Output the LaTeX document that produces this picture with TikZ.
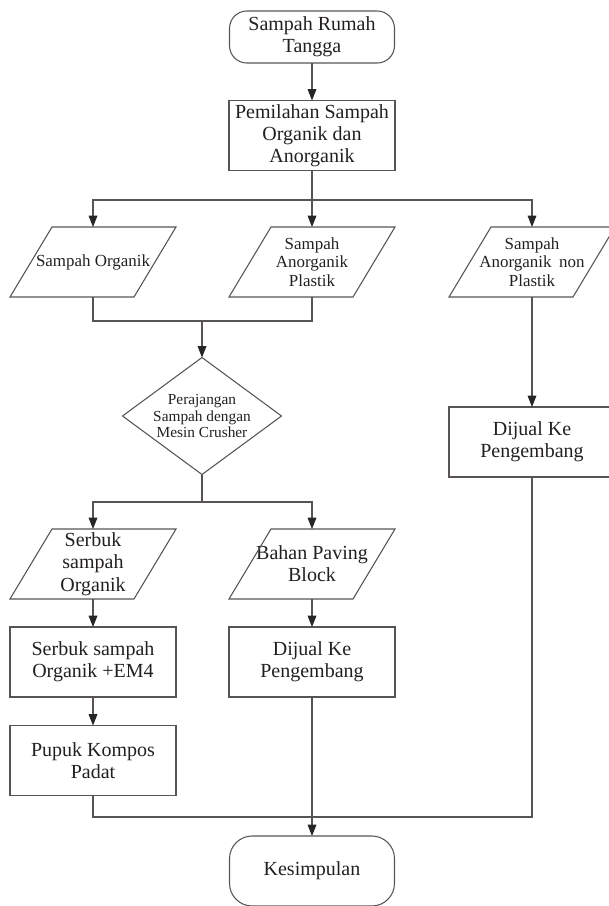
\documentclass[tikz,border=0pt]{standalone}
\usepackage{fontspec}
\setmainfont{Liberation Serif}
\usetikzlibrary{shapes.geometric,arrows.meta}
\definecolor{wiregray}{RGB}{88,84,84}
\definecolor{inkgray}{RGB}{35,31,32}
\begin{document}
\begin{tikzpicture}[x=0.75pt,y=-0.75pt,
  every node/.style={text=inkgray, align=center, inner sep=1pt, outer sep=0pt, font=\fontsize{15}{16.7}\selectfont},
  terminal/.style={draw=wiregray, line width=0.8pt, rounded corners=13pt, minimum width=123.75pt, minimum height=39pt},
  process/.style={draw=wiregray, line width=0.8pt, minimum width=124.5pt, minimum height=52.5pt},
  dataio/.style={minimum width=93pt, minimum height=52.5pt},
  smalltext/.style={font=\fontsize{12.7}{14}\selectfont},
  decision/.style={draw=wiregray, line width=0.8pt, diamond, aspect=1.36, inner sep=0pt, minimum width=119.25pt, minimum height=87.75pt, font=\fontsize{11.5}{12.4}\selectfont},
  wire/.style={draw=wiregray, line width=0.8pt},
  flow/.style={wire, -{Triangle[length=8.5pt,width=6.5pt,color=black!85]}}
]
\useasboundingbox (0,0) rectangle (608,906);
\node[terminal] (home) at (312,37) {Sampah Rumah\\Tangga};
\node[process] (sorting) at (312,135.5) {Pemilahan Sampah\\Organik dan\\Anorganik};
\node[dataio, smalltext] (organik) at (93,262) {Sampah Organik};
\node[dataio, smalltext] (plastik) at (312,262) {Sampah\\Anorganik\\Plastik};
\node[dataio, smalltext] (nonplastik) at (532,262) {Sampah\\Anorganik\hspace{0.45em}non\\Plastik};
\node[decision] (chop) at (202,416) {Perajangan\\Sampah dengan\\Mesin Crusher};
\node[process] (sellright) at (532,442) {Dijual Ke\\Pengembang};
\node[dataio] (serbuk) at (93,564) {Serbuk\\sampah\\Organik};
\node[dataio] (paving) at (312,564) {Bahan Paving\\Block};
\node[process] (mixem) at (93,662) {Serbuk sampah\\Organik +EM4};
\node[process] (sellmid) at (312,662) {Dijual Ke\\Pengembang};
\node[process] (compost) at (93,760.5) {Pupuk Kompos\\Padat};
\node[terminal, minimum height=52.5pt, rounded corners=17pt] (finish) at (312,871) {Kesimpulan};
\foreach \n in {organik,plastik,nonplastik,serbuk,paving}
  \draw[wire] ([xshift=15.75pt]\n.north west) -- ([xshift=15.75pt]\n.north east) -- ([xshift=-15.75pt]\n.south east) -- ([xshift=-15.75pt]\n.south west) -- cycle;
\coordinate (fork1) at (312,200);
\coordinate (merge1) at (202,321);
\coordinate (fork2) at (202,502);
\coordinate (merge2) at (312,817);
\draw[flow] (home) -- (sorting);
\draw[flow] (sorting) -- (plastik);
\draw[flow] (fork1) -| (organik);
\draw[flow] (fork1) -| (nonplastik);
\draw[wire] (organik) |- (merge1);
\draw[wire] (plastik) |- (merge1);
\draw[flow] (merge1) -- (chop);
\draw[flow] (nonplastik) -- (sellright);
\draw[wire] (chop) -- (fork2);
\draw[flow] (fork2) -| (serbuk);
\draw[flow] (fork2) -| (paving);
\draw[flow] (serbuk) -- (mixem);
\draw[flow] (mixem) -- (compost);
\draw[flow] (paving) -- (sellmid);
\draw[wire] (compost) |- (merge2);
\draw[wire] (sellright) |- (merge2);
\draw[flow] (sellmid) -- (finish);
\end{tikzpicture}
\end{document}
